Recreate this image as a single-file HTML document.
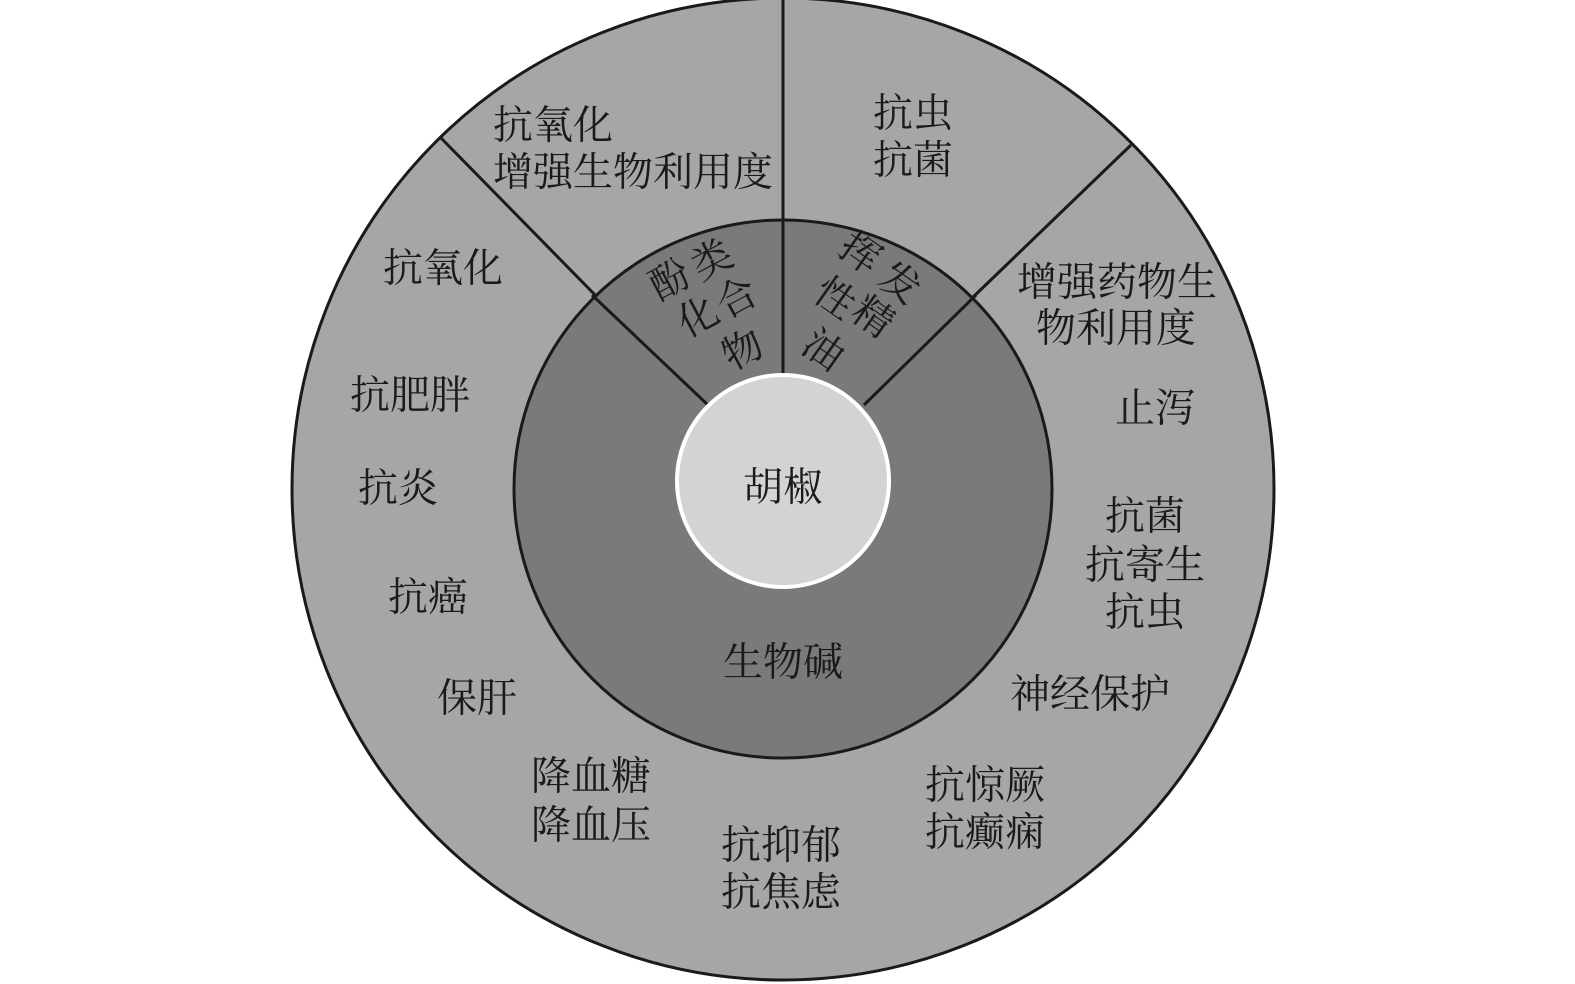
<!DOCTYPE html>
<html><head><meta charset="utf-8"><style>
html,body{margin:0;padding:0;background:#fff;overflow:hidden;width:1575px;height:984px}
svg{display:block}
text{font-family:"Liberation Serif","Noto Serif CJK SC",serif;font-size:40px;fill:#1a1a1a;dominant-baseline:central}
</style></head><body>
<svg width="1575" height="984" viewBox="0 0 1575 984">
<circle cx="783" cy="489" r="491" fill="#a7a5a6" stroke="#1a1a1a" stroke-width="3"/>
<line x1="783" y1="0" x2="783" y2="382" stroke="#1a1a1a" stroke-width="3"/>
<line x1="440" y1="137" x2="600" y2="300" stroke="#1a1a1a" stroke-width="3"/>
<line x1="1131" y1="145" x2="970" y2="300" stroke="#1a1a1a" stroke-width="3"/>
<circle cx="783" cy="489" r="269" fill="#7b797a" stroke="#1a1a1a" stroke-width="3"/>
<line x1="783" y1="220" x2="783" y2="382" stroke="#1a1a1a" stroke-width="3"/>
<line x1="592" y1="295" x2="708" y2="405" stroke="#1a1a1a" stroke-width="3"/>
<line x1="976" y1="295" x2="864" y2="405" stroke="#1a1a1a" stroke-width="3"/>
<circle cx="783" cy="481" r="106" fill="#d3d3d3" stroke="#fff" stroke-width="4"/>
<text x="783" y="487" text-anchor="middle">胡椒</text>
<text x="783" y="662" text-anchor="middle">生物碱</text>
<g>
<text x="670" y="280" text-anchor="middle" transform="rotate(-28 670 280)">酚</text>
<text x="712" y="260" text-anchor="middle" transform="rotate(-28 712 260)">类</text>
<text x="698" y="317" text-anchor="middle" transform="rotate(-28 698 317)">化</text>
<text x="737" y="298" text-anchor="middle" transform="rotate(-28 737 298)">合</text>
<text x="743" y="350" text-anchor="middle" transform="rotate(-28 743 350)">物</text>
<text x="860" y="253" text-anchor="middle" transform="rotate(35 860 253)">挥</text>
<text x="900" y="283" text-anchor="middle" transform="rotate(35 900 283)">发</text>
<text x="835" y="298" text-anchor="middle" transform="rotate(35 835 298)">性</text>
<text x="873" y="317" text-anchor="middle" transform="rotate(35 873 317)">精</text>
<text x="823" y="350" text-anchor="middle" transform="rotate(35 823 350)">油</text>
</g>
<text x="493" y="125">抗氧化</text>
<text x="493" y="172">增强生物利用度</text>
<text x="873" y="113">抗虫</text>
<text x="873" y="160">抗菌</text>
<text x="383" y="268">抗氧化</text>
<text x="1017" y="282">增强药物生</text>
<text x="1036" y="328">物利用度</text>
<text x="350" y="395">抗肥胖</text>
<text x="1115" y="408">止泻</text>
<text x="358" y="488">抗炎</text>
<text x="1145" y="516" text-anchor="middle">抗菌</text>
<text x="1145" y="565" text-anchor="middle">抗寄生</text>
<text x="1145" y="612" text-anchor="middle">抗虫</text>
<text x="388" y="597">抗癌</text>
<text x="1010" y="694">神经保护</text>
<text x="437" y="698">保肝</text>
<text x="531" y="776">降血糖</text>
<text x="531" y="825">降血压</text>
<text x="925" y="785">抗惊厥</text>
<text x="925" y="832">抗癫痫</text>
<text x="721" y="845">抗抑郁</text>
<text x="721" y="892">抗焦虑</text>
</svg>
</body></html>
